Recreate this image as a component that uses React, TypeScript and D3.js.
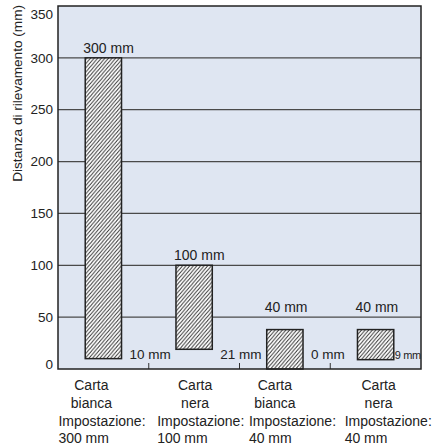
import React from 'react';
import * as d3 from 'd3';

// Dati
const categories = ['bianca300', 'nera100', 'bianca40', 'nera40'];
const categoryLines = [
    ['Carta', 'bianca', 'Impostazione:', '300 mm'],
    ['Carta', 'nera', 'Impostazione:', '100 mm'],
    ['Carta', 'bianca', 'Impostazione:', '40 mm'],
    ['Carta', 'nera', 'Impostazione:', '40 mm'],
];
const topValues = [300, 100, 38, 38];
const bottomValues = [10, 19, 0, 9];
const topLabels = ['300 mm', '100 mm', '40 mm', '40 mm'];
const bottomLabels = ['10 mm', '21 mm', '0 mm', '9 mm'];
const yTicks = [0, 50, 100, 150, 200, 250, 300, 350];

const W = 433;
const H = 448;
const FONT = '"Liberation Sans", Arial, Helvetica, sans-serif';

const App: React.FC = () => {
    const left = 58, right = 421, top = 6, bottom = 369;

    const x = d3.scaleBand<string>()
        .domain(categories)
        .range([left, right])
        .paddingInner(0.6)
        .paddingOuter(0.3);

    const y = d3.scaleLinear().domain([0, 350]).range([bottom, top]);

    const step = x.step();
    const bw = x.bandwidth();

    // piccoli spostamenti delle etichette, come nell'originale
    const centerShift = [-12, 1, -10, 3];
    const startShift = [-45, -37, -36, -31];

    // tratteggio "/" : dal basso a sinistra verso l'alto a destra
    const hw = 3.6, hh = 4.2;
    const hatchPath = `M0,${hh} L${hw},0 M${-hw / 2},${hh / 2} L${hw / 2},${-hh / 2} M${hw / 2},${hh * 1.5} L${hw * 1.5},${hh / 2}`;

    return (
        <svg width={W} height={H} style={{ position: 'absolute', left: 0, top: 0 }} fontFamily={FONT}>
            <defs>
                <pattern id="hatch" patternUnits="userSpaceOnUse" width={hw} height={hh}>
                    <rect width={hw} height={hh} fill="#fff" />
                    <path d={hatchPath} stroke="#222" strokeWidth={0.9} fill="none" />
                </pattern>
            </defs>

            <rect x={left} y={top} width={right - left} height={bottom - top} fill="#dfe6f2" />

            {yTicks.filter(t => t > 0 && t < 350).map(t => (
                <line key={t} x1={left} x2={right} y1={y(t)} y2={y(t)} stroke="#4a4a4a" strokeWidth={1.2} />
            ))}

            {yTicks.map(t => (
                <text key={t} x={53} y={Math.min(Math.max(y(t), 14), 364)} dy="0.35em"
                    textAnchor="end" fontSize={13.5} fill="#222">{t}</text>
            ))}

            <text transform={`translate(22,5) rotate(-90)`} textAnchor="end" fontSize={13.6} fill="#222">
                Distanza di rilevamento (mm)
            </text>

            {categories.slice(0, -1).map(c => {
                const tx = (x(c) as number) + bw + (step - bw) / 2;
                return <line key={c} x1={tx} x2={tx} y1={bottom - 6} y2={bottom} stroke="#333" strokeWidth={1} />;
            })}

            {categories.map((c, i) => {
                const bx = x(c) as number;
                const y0 = y(bottomValues[i]);
                const y1 = y(topValues[i]);
                return (
                    <rect key={c} x={bx} y={y1} width={bw} height={y0 - y1}
                        fill="url(#hatch)" stroke="#222" strokeWidth={1.5} />
                );
            })}

            {categories.map((c, i) => {
                const bx = x(c) as number;
                const ly = y(Math.ceil(topValues[i] / 50) * 50) - 5;
                return (
                    <text key={c} x={bx - 2} y={ly} fontSize={14} fill="#222">{topLabels[i]}</text>
                );
            })}

            {categories.map((c, i) => {
                const bx = (x(c) as number) + bw;
                const tight = i === categories.length - 1;
                return (
                    <text key={c} x={bx + (tight ? 1 : 8)} y={359} fontSize={tight ? 11 : 13.5}
                        letterSpacing={tight ? -0.4 : 0} fill="#222">{bottomLabels[i]}</text>
                );
            })}

            {categories.map((c, i) => {
                const cx = (x(c) as number) + bw / 2;
                return (
                    <g key={c} fontSize={14} fill="#222">
                        {categoryLines[i].map((s, j) => (
                            <text key={j}
                                x={j < 2 ? cx + centerShift[i] : cx + startShift[i]}
                                y={390 + j * 17.8}
                                textAnchor={j < 2 ? 'middle' : 'start'}>{s}</text>
                        ))}
                    </g>
                );
            })}

            <rect x={left} y={top} width={right - left} height={bottom - top} fill="none" stroke="#222" strokeWidth={1.5} />
        </svg>
    );
};

export default App;
